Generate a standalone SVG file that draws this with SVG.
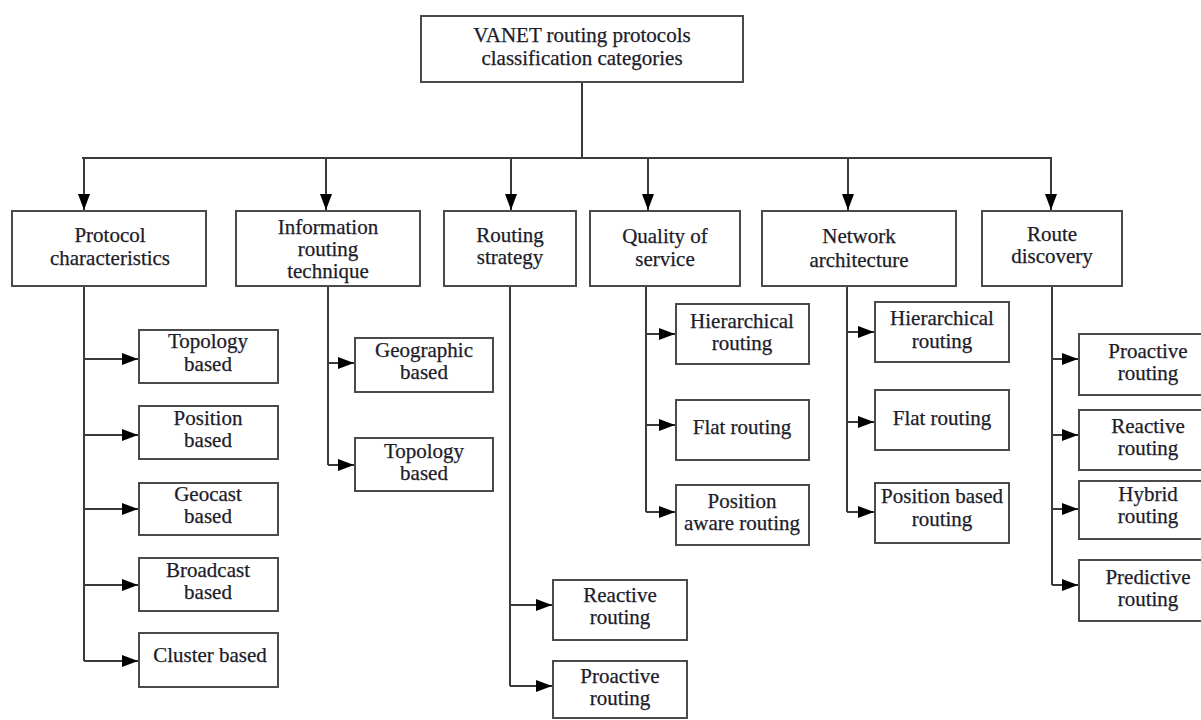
<svg xmlns="http://www.w3.org/2000/svg" width="1201" height="720" viewBox="0 0 1201 720">
<defs>
<marker id="ah" markerUnits="userSpaceOnUse" markerWidth="16" markerHeight="12" refX="16" refY="6" orient="auto">
<path d="M0,0 L16,6 L0,12 z" fill="#000"/>
</marker>
<style>
.box{fill:#fff;stroke:#4a4a4a;stroke-width:2}
.t{font-family:"Liberation Serif","Times New Roman",serif;font-size:21px;fill:#1c1c2a;stroke:#1c1c2a;stroke-width:0.25;text-anchor:middle}
.ln{fill:none;stroke:#3a3a3a;stroke-width:2}
.ar{fill:none;stroke:#3a3a3a;stroke-width:2;marker-end:url(#ah)}
</style>
</defs>
<rect width="1201" height="720" fill="#fff"/>
<g id="connectors">
<path class="ln" d="M582,82 V158 M82,158 H1052"/>
<path class="ar" d="M84,158 V210"/>
<path class="ar" d="M326,158 V210"/>
<path class="ar" d="M511,158 V210"/>
<path class="ar" d="M648,158 V210"/>
<path class="ar" d="M848,158 V210"/>
<path class="ar" d="M1051,158 V210"/>
<path class="ln" d="M84,286 V661"/>
<path class="ar" d="M84,359 H138"/>
<path class="ar" d="M84,435 H138"/>
<path class="ar" d="M84,509 H138"/>
<path class="ar" d="M84,585 H138"/>
<path class="ar" d="M84,661 H138"/>
<path class="ln" d="M328,286 V465"/>
<path class="ar" d="M328,363 H354"/>
<path class="ar" d="M328,465 H354"/>
<path class="ln" d="M510,286 V686"/>
<path class="ar" d="M510,605 H552"/>
<path class="ar" d="M510,686 H552"/>
<path class="ln" d="M646,286 V512"/>
<path class="ar" d="M646,334 H675"/>
<path class="ar" d="M646,425 H675"/>
<path class="ar" d="M646,512 H675"/>
<path class="ln" d="M847,286 V512"/>
<path class="ar" d="M847,332 H874"/>
<path class="ar" d="M847,422 H874"/>
<path class="ar" d="M847,512 H874"/>
<path class="ln" d="M1052,286 V585"/>
<path class="ar" d="M1052,359 H1078"/>
<path class="ar" d="M1052,435 H1078"/>
<path class="ar" d="M1052,509 H1078"/>
<path class="ar" d="M1052,585 H1078"/>
</g>
<g id="root"><rect class="box" x="421" y="16" width="322" height="66"/><text class="t" x="582" y="42">VANET routing protocols</text><text class="t" x="582" y="65">classification categories</text></g>
<g id="protocol-characteristics"><rect class="box" x="12" y="211" width="194" height="75"/><text class="t" x="110" y="242">Protocol</text><text class="t" x="110" y="265">characteristics</text></g>
<g id="information-routing-technique"><rect class="box" x="236" y="211" width="184" height="75"/><text class="t" x="328" y="234">Information</text><text class="t" x="328" y="256">routing</text><text class="t" x="328" y="278">technique</text></g>
<g id="routing-strategy"><rect class="box" x="444" y="211" width="132" height="75"/><text class="t" x="510" y="242">Routing</text><text class="t" x="510" y="264">strategy</text></g>
<g id="quality-of-service"><rect class="box" x="590" y="211" width="150" height="75"/><text class="t" x="665" y="243">Quality of</text><text class="t" x="665" y="266">service</text></g>
<g id="network-architecture"><rect class="box" x="762" y="211" width="194" height="75"/><text class="t" x="859" y="243">Network</text><text class="t" x="859" y="267">architecture</text></g>
<g id="route-discovery"><rect class="box" x="982" y="211" width="140" height="75"/><text class="t" x="1052" y="241">Route</text><text class="t" x="1052" y="263">discovery</text></g>

<g id="pc-topology"><rect class="box" x="139" y="330" width="139" height="53"/><text class="t" x="208" y="348">Topology</text><text class="t" x="208" y="371">based</text></g>
<g id="pc-position"><rect class="box" x="139" y="406" width="139" height="53"/><text class="t" x="208" y="425">Position</text><text class="t" x="208" y="447">based</text></g>
<g id="pc-geocast"><rect class="box" x="139" y="483" width="139" height="52"/><text class="t" x="208" y="501">Geocast</text><text class="t" x="208" y="523">based</text></g>
<g id="pc-broadcast"><rect class="box" x="139" y="558" width="139" height="53"/><text class="t" x="208" y="577">Broadcast</text><text class="t" x="208" y="599">based</text></g>
<g id="pc-cluster"><rect class="box" x="139" y="633" width="139" height="54"/><text class="t" x="210" y="662">Cluster based</text></g>

<g id="irt-geographic"><rect class="box" x="355" y="338" width="138" height="54"/><text class="t" x="424" y="357">Geographic</text><text class="t" x="424" y="379">based</text></g>
<g id="irt-topology"><rect class="box" x="355" y="438" width="138" height="53"/><text class="t" x="424" y="458">Topology</text><text class="t" x="424" y="480">based</text></g>

<g id="rs-reactive"><rect class="box" x="553" y="580" width="134" height="60"/><text class="t" x="620" y="602">Reactive</text><text class="t" x="620" y="624">routing</text></g>
<g id="rs-proactive"><rect class="box" x="553" y="661" width="134" height="57"/><text class="t" x="620" y="683">Proactive</text><text class="t" x="620" y="705">routing</text></g>

<g id="qos-hierarchical"><rect class="box" x="676" y="304" width="133" height="60"/><text class="t" x="742" y="328">Hierarchical</text><text class="t" x="742" y="350">routing</text></g>
<g id="qos-flat"><rect class="box" x="676" y="400" width="133" height="60"/><text class="t" x="742" y="434">Flat routing</text></g>
<g id="qos-position-aware"><rect class="box" x="676" y="485" width="133" height="60"/><text class="t" x="742" y="508">Position</text><text class="t" x="742" y="530">aware routing</text></g>

<g id="na-hierarchical"><rect class="box" x="875" y="302" width="134" height="60"/><text class="t" x="942" y="325">Hierarchical</text><text class="t" x="942" y="348">routing</text></g>
<g id="na-flat"><rect class="box" x="875" y="390" width="134" height="60"/><text class="t" x="942" y="425">Flat routing</text></g>
<g id="na-position"><rect class="box" x="875" y="483" width="134" height="60"/><text class="t" x="942" y="503">Position based</text><text class="t" x="942" y="526">routing</text></g>

<g id="rd-proactive"><rect class="box" x="1079" y="334" width="130" height="61"/><text class="t" x="1148" y="358">Proactive</text><text class="t" x="1148" y="380">routing</text></g>
<g id="rd-reactive"><rect class="box" x="1079" y="410" width="130" height="60"/><text class="t" x="1148" y="433">Reactive</text><text class="t" x="1148" y="455">routing</text></g>
<g id="rd-hybrid"><rect class="box" x="1079" y="481" width="130" height="58"/><text class="t" x="1148" y="501">Hybrid</text><text class="t" x="1148" y="523">routing</text></g>
<g id="rd-predictive"><rect class="box" x="1079" y="560" width="130" height="61"/><text class="t" x="1148" y="584">Predictive</text><text class="t" x="1148" y="606">routing</text></g>
</svg>
